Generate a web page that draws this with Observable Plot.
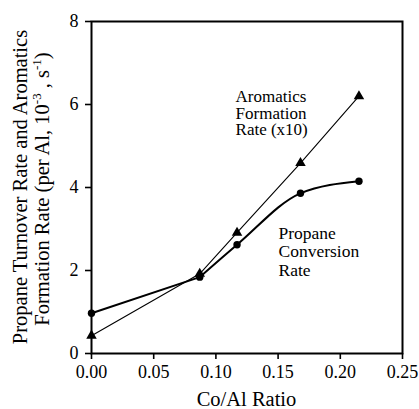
<!DOCTYPE html>
<html>
<head>
<meta charset="utf-8">
<script src="https://cdn.jsdelivr.net/npm/d3@7"></script>
<script src="https://cdn.jsdelivr.net/npm/@observablehq/plot@0.6"></script>
<style>
  html, body { margin: 0; padding: 0; background: #fff; }
  #chart svg { display: block; }
</style>
</head>
<body>
<div id="chart"></div>
<script>
// Data
const ratio = [0, 0.087, 0.117, 0.168, 0.215];
const propaneRate = [0.97, 1.84, 2.62, 3.86, 4.15];
const aromaticsRate = [0.43, 1.92, 2.91, 4.59, 6.2];

const xTicks = [0, 0.05, 0.10, 0.15, 0.20, 0.25];
const yTicks = [0, 2, 4, 6, 8];

const xLabel = "Co/Al Ratio";
const yLabelLine1 = "Propane Turnover Rate and Aromatics";

const aromaticsNote = [{x: 0.1158, y: 6.34, text: "Aromatics\nFormation\nRate (x10)"}];
const propaneNote = [{x: 0.1503, y: 3.08, text: "Propane\nConversion\nRate"}];

const propane = ratio.map((x, i) => ({x, y: propaneRate[i]}));
const aromatics = ratio.map((x, i) => ({x, y: aromaticsRate[i]}));
// the first propane segment is drawn straight, the rest as a smooth curve
const propaneStart = propane.slice(0, 2);
const propaneRest = propane.slice(1);

const font = "Liberation Serif";

const chart = Plot.plot({
  width: 419,
  height: 409,
  marginLeft: 91,
  marginRight: 17,
  marginTop: 21,
  marginBottom: 56,
  style: "font-family: 'Liberation Serif', serif;",
  x: {domain: [0, 0.25]},
  y: {domain: [0, 8]},
  marks: [
    Plot.axisX({ticks: xTicks, tickFormat: d3.format(".2f"), tickSize: 6, tickPadding: 6,
      fontSize: 18, strokeWidth: 1.6, label: null}),
    Plot.axisY({ticks: yTicks, tickFormat: d3.format("d"), tickSize: 6, tickPadding: 7,
      fontSize: 18, strokeWidth: 1.6, label: null}),
    Plot.frame({strokeWidth: 2}),
    Plot.line(aromatics, {x: "x", y: "y", stroke: "#000", strokeWidth: 1.1}),
    Plot.line(propaneStart, {x: "x", y: "y", stroke: "#000", strokeWidth: 2}),
    Plot.line(propaneRest, {x: "x", y: "y", stroke: "#000", strokeWidth: 2, curve: "monotone-x"}),
    Plot.dot(aromatics, {x: "x", y: "y", symbol: "triangle", r: 3.9, fill: "#000", stroke: "none"}),
    Plot.dot(propane, {x: "x", y: "y", r: 3.7, fill: "#000", stroke: "none"}),
    Plot.text(aromaticsNote, {x: "x", y: "y", text: "text", textAnchor: "start", lineAnchor: "top",
      fontSize: 17, lineHeight: 0.97, fill: "#000"}),
    Plot.text(propaneNote, {x: "x", y: "y", text: "text", textAnchor: "start", lineAnchor: "top",
      fontSize: 17.5, lineHeight: 1.06, fill: "#000"})
  ]
});

document.getElementById("chart").appendChild(chart);

const svg = d3.select(chart);

// Axis titles
svg.append("text")
  .attr("x", 246.5).attr("y", 406)
  .attr("text-anchor", "middle")
  .attr("font-size", 20.5).attr("fill", "#000")
  .text(xLabel);

const yl = svg.append("g").attr("font-size", 20.5).attr("fill", "#000");
yl.append("text")
  .attr("transform", "translate(27,187) rotate(-90)")
  .attr("text-anchor", "middle")
  .text(yLabelLine1);
const t2 = yl.append("text")
  .attr("transform", "translate(49,189) rotate(-90)")
  .attr("text-anchor", "middle");
t2.append("tspan").text("Formation Rate (per Al, 10");
t2.append("tspan").attr("dy", -8).attr("font-size", 13).text("-3");
t2.append("tspan").attr("dy", 8).text(" , s");
t2.append("tspan").attr("dy", -8).attr("font-size", 13).text("-1");
t2.append("tspan").attr("dy", 8).text(")");

svg.attr("font-family", font);
svg.selectAll("text, tspan").attr("font-family", font);
</script>
</body>
</html>
